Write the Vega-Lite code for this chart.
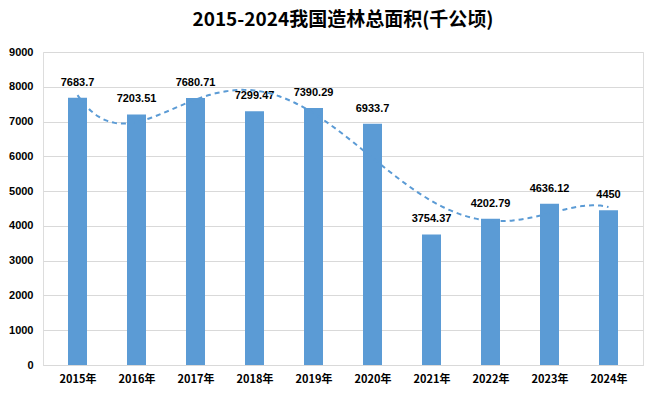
{
  "$schema": "https://vega.github.io/schema/vega-lite/v6.json",
  "autosize": {"type": "none"},
  "padding": {"left": 43, "top": 52, "right": 14, "bottom": 33},
  "width": 600,
  "height": 313,
  "background": "white",
  "title": {
    "text": "2015-2024我国造林总面积(千公顷)",
    "fontSize": 19,
    "fontWeight": "bold",
    "font": "Noto Sans CJK SC",
    "color": "#000000",
    "offset": 16
  },
  "data": {
    "values": [
      {"year": 2015, "value": 7683.7},
      {"year": 2016, "value": 7203.51},
      {"year": 2017, "value": 7680.71},
      {"year": 2018, "value": 7299.47},
      {"year": 2019, "value": 7390.29},
      {"year": 2020, "value": 6933.7},
      {"year": 2021, "value": 3754.37},
      {"year": 2022, "value": 4202.79},
      {"year": 2023, "value": 4636.12},
      {"year": 2024, "value": 4450}
    ]
  },
  "encoding": {
    "x": {
      "field": "year",
      "type": "quantitative",
      "scale": {"domain": [2014.5, 2024.5], "nice": false, "zero": false},
      "axis": {
        "title": null,
        "values": [2015, 2016, 2017, 2018, 2019, 2020, 2021, 2022, 2023, 2024],
        "labelExpr": "datum.value + '年'",
        "grid": false,
        "ticks": false,
        "domainColor": "#d9d9d9",
        "labelFont": "Noto Sans CJK SC",
        "labelFontWeight": "bold",
        "labelFontSize": 11,
        "labelColor": "#000000",
        "labelPadding": 8
      }
    },
    "y": {
      "field": "value",
      "type": "quantitative",
      "scale": {"domain": [0, 9000], "nice": false},
      "axis": {
        "title": null,
        "values": [0, 1000, 2000, 3000, 4000, 5000, 6000, 7000, 8000, 9000],
        "format": "d",
        "domain": false,
        "ticks": false,
        "gridColor": "#d9d9d9",
        "labelFont": "Liberation Sans",
        "labelFontWeight": "bold",
        "labelFontSize": 11,
        "labelColor": "#000000",
        "labelPadding": 10
      }
    }
  },
  "layer": [
    {
      "mark": {"type": "bar", "size": 19, "color": "#5B9BD5"}
    },
    {
      "mark": {"type": "text", "dy": -15, "fontSize": 11, "fontWeight": "bold", "font": "Liberation Sans", "color": "#000000"},
      "encoding": {"text": {"field": "value", "type": "quantitative"}}
    },
    {
      "transform": [{"regression": "value", "on": "year", "method": "poly", "order": 5}],
      "mark": {"type": "line", "color": "#5B9BD5", "strokeWidth": 2, "strokeDash": [5, 4], "interpolate": "monotone"}
    }
  ]
}
